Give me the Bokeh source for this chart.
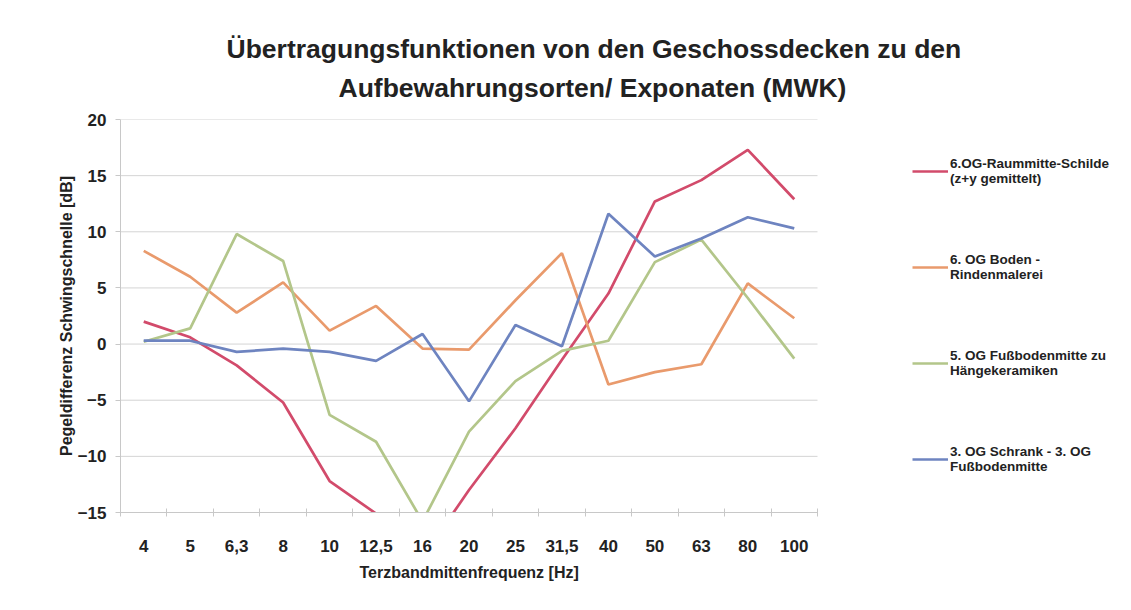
from bokeh.plotting import figure
from bokeh.models import Range1d, Legend, LegendItem, Title, FixedTicker
from bokeh.embed import file_html
from bokeh.resources import INLINE

freqs = ["4", "5", "6,3", "8", "10", "12,5", "16", "20", "25", "31,5", "40", "50", "63", "80", "100"]
raummitte = [2.0, 0.6, -1.9, -5.2, -12.2, -15.1, -19.0, -13.0, -7.5, -1.4, 4.5, 12.7, 14.6, 17.3, 12.9]
boden = [8.3, 6.0, 2.8, 5.5, 1.2, 3.4, -0.4, -0.5, 3.9, 8.1, -3.6, -2.5, -1.8, 5.4, 2.3]
fussboden5 = [0.2, 1.4, 9.8, 7.4, -6.3, -8.7, -15.8, -7.8, -3.3, -0.6, 0.3, 7.3, 9.3, 4.1, -1.3]
schrank = [0.3, 0.3, -0.7, -0.4, -0.7, -1.5, 0.9, -5.1, 1.7, -0.2, 11.6, 7.8, 9.4, 11.3, 10.3]

series_names = ["6.OG-Raummitte-Schilde\n(z+y gemittelt)",
                "6. OG Boden -\nRindenmalerei",
                "5. OG Fußbodenmitte zu\nHängekeramiken",
                "3. OG Schrank - 3. OG\nFußbodenmitte"]
colors = ["#d24b6b", "#e99a6c", "#b3c68a", "#6e84c0"]
y_ticks = [-15, -10, -5, 0, 5, 10, 15, 20]
title_lines = ["Übertragungsfunktionen von den Geschossdecken zu den",
               "Aufbewahrungsorten/ Exponaten (MWK)"]
x_title = "Terzbandmittenfrequenz [Hz]"
y_title = "Pegeldifferenz Schwingschnelle [dB]"

FONT = "Liberation Sans"

W, H = 1115, 594
LEFT, RIGHT = 120, 0
PLOT_W = 697                       # width used by the category axis
FRAME_W = W - LEFT - RIGHT         # frame also holds the legend
n = len(freqs)
xs = list(range(n))
x_end = -0.5 + n * FRAME_W / PLOT_W

p = figure(width=W, height=H, output_backend="svg", toolbar_location=None,
           x_range=Range1d(-0.5, x_end), y_range=Range1d(-15, 20),
           min_border_left=LEFT, min_border_right=RIGHT, min_border_top=119, min_border_bottom=82)
p.outline_line_color = None
p.background_fill_color = "white"
p.border_fill_color = "white"

# horizontal grid lines only across the category area
p.segment(x0=[-0.5] * len(y_ticks), x1=[n - 0.5] * len(y_ticks), y0=y_ticks, y1=y_ticks,
          line_color="#d4d4d4", line_width=1)

renderers = []
for vals, c in zip([raummitte, boden, fussboden5, schrank], colors):
    r = p.line(xs, vals, line_color=c, line_width=2.7)
    renderers.append(r)

# axes
p.xaxis.bounds = (-0.5, n - 0.5)
p.xaxis.ticker = FixedTicker(ticks=xs, minor_ticks=[i - 0.5 for i in range(n + 1)])
p.xaxis.major_label_overrides = {i: f for i, f in enumerate(freqs)}
p.xaxis.major_tick_line_color = None
p.xaxis.minor_tick_line_color = "#c8c8c8"
p.xaxis.minor_tick_in = 4
p.xaxis.minor_tick_out = 4
p.xaxis.axis_line_color = "#c8c8c8"
p.xaxis.major_label_standoff = 21

p.yaxis.ticker = FixedTicker(ticks=y_ticks)
p.yaxis.minor_tick_line_color = None
p.yaxis.major_tick_line_color = "#c8c8c8"
p.yaxis.major_tick_in = 0
p.yaxis.major_tick_out = 5
p.yaxis.axis_line_color = "#c8c8c8"
p.yaxis.major_label_standoff = 9
p.yaxis.axis_label = y_title
p.yaxis.axis_label_standoff = 0

for ax in (p.xaxis[0], p.yaxis[0]):
    ax.major_label_text_font = FONT
    ax.major_label_text_font_style = "bold"
    ax.major_label_text_font_size = "17px"
    ax.major_label_text_color = "#222222"
    ax.axis_label_text_font = FONT
    ax.axis_label_text_font_style = "bold"
    ax.axis_label_text_font_size = "16px"
    ax.axis_label_text_color = "#222222"

p.xgrid.grid_line_color = None
p.ygrid.grid_line_color = None

# x-axis title centred under the category area (below the tick labels)
p.add_layout(Title(text=x_title, align="left", offset=239, standoff=14,
                   text_font=FONT, text_font_style="bold", text_font_size="16px",
                   text_color="#222222"), "below")

# title: first line is p.title, the added Title sits nearer the plot
p.title.text = title_lines[0]
p.title.align = "left"
p.title.offset = 106
p.title.standoff = -20
p.title.text_font = FONT
p.title.text_font_style = "bold"
p.title.text_font_size = "26.5px"
p.title.text_color = "#222222"
p.add_layout(Title(text=title_lines[1], align="left", offset=218, standoff=34,
                   text_font=FONT, text_font_style="bold", text_font_size="26.5px",
                   text_color="#222222"), "above")

legend = Legend(items=[LegendItem(label=nm, renderers=[r]) for nm, r in zip(series_names, renderers)],
                location=(792, 38), padding=0, margin=0, spacing=66,
                glyph_width=36, glyph_height=16, label_standoff=2,
                label_text_font=FONT, label_text_font_style="bold", label_text_font_size="13.5px",
                label_text_color="#222222", border_line_color=None, background_fill_alpha=0)
p.add_layout(legend, "center")

open("out.html", "w").write(file_html(p, INLINE))
